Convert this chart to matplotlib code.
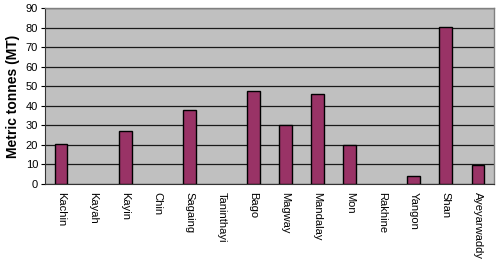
import matplotlib
matplotlib.use("Agg")
import matplotlib.pyplot as plt
import numpy as np

plt.rcParams['font.family'] = ['Liberation Sans', 'DejaVu Sans']

regions = ["Kachin", "Kayah", "Kayin", "Chin", "Sagaing", "Taninthayi", "Bago",
           "Magway", "Mandalay", "Mon", "Rakhine", "Yangon", "Shan", "Ayeyarwaddy"]
values = [20.5, 0, 27, 0, 37.8, 0, 47.7, 30.2, 46, 20, 0, 4, 80.3, 9.5]
yticks = [0, 10, 20, 30, 40, 50, 60, 70, 80, 90]

fig = plt.figure(figsize=(5.0, 2.65), dpi=100)
ax = fig.add_axes([45/500, 1-184/265, (494-45)/500, (184-8)/265])
ax.set_facecolor('#c0c0c0')
x = np.arange(len(regions))
edges = ['black' if v > 0 else 'none' for v in values]
ax.bar(x, values, width=0.4, color='#993366', edgecolor=edges, linewidth=1.0, zorder=3)
ax.set_xlim(-0.5, len(regions) - 0.5)
ax.set_ylim(0, 90)
ax.set_yticks(yticks)
ax.yaxis.grid(True, color='#1a1a1a', linewidth=0.9, zorder=1)
ax.set_axisbelow(True)
ax.set_xticks(x)
ax.set_xticklabels(regions, rotation=270, fontsize=8, va='top', ha='center')
ax.tick_params(axis='x', length=0, pad=6)
ax.tick_params(axis='y', length=3, width=0.8, labelsize=8, pad=2)
for s in ['top', 'right']:
    ax.spines[s].set_color('#808080')
    ax.spines[s].set_linewidth(1.0)
ax.spines['left'].set_color('#333333')
ax.spines['bottom'].set_color('#333333')
ax.set_ylabel('Metric tonnes (MT)', fontsize=10, fontweight='bold', labelpad=4)
fig.savefig('out.png', dpi=100)
